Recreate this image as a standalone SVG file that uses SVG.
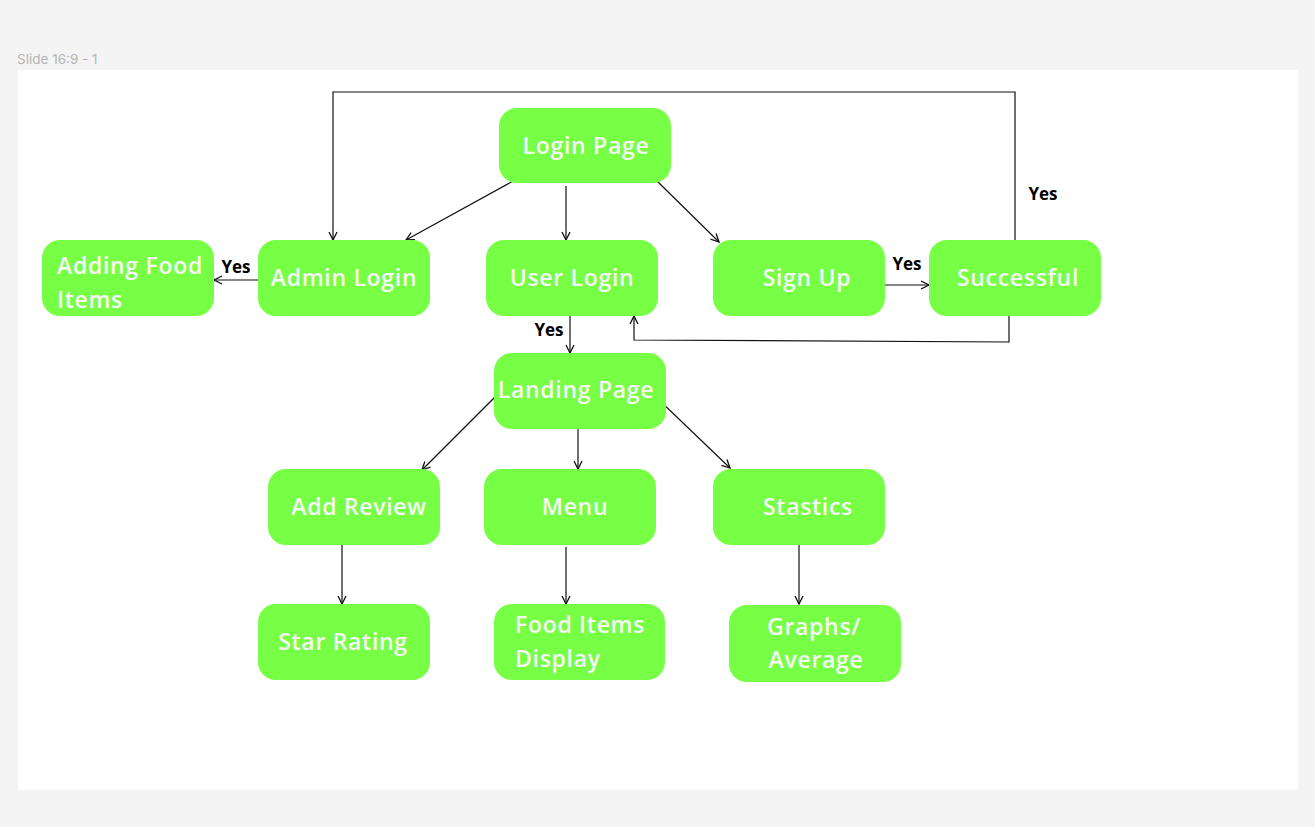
<svg xmlns="http://www.w3.org/2000/svg" width="1315" height="827" viewBox="0 0 1315 827">
<defs>
<marker id="arr" viewBox="0 0 10 10" refX="9" refY="5" markerWidth="10" markerHeight="10" markerUnits="userSpaceOnUse" orient="auto">
<path d="M1,1 L9,5 L1,9" fill="none" stroke="#111" stroke-width="1.3"/>
</marker>
<style>
.n{fill:#77FF45}
.t{font-family:"Open Sans","Liberation Sans",sans-serif;font-weight:600;font-size:23px;letter-spacing:0.7px;fill:#F7F7F7}
.c{fill:none;stroke:#111;stroke-width:1.2}
.y{font-family:"Open Sans","Liberation Sans",sans-serif;font-weight:700;font-size:17px;fill:#000}
</style>
</defs>
<rect width="1315" height="827" fill="#F4F4F4"/>
<text x="17" y="64" font-family="Inter,'Liberation Sans',sans-serif" font-size="13.5" fill="#B5B5B5">Slide 16:9 - 1</text>
<rect x="18" y="70" width="1280" height="720" fill="#FFFFFF"/>

<g id="connectors">
<line class="c" x1="515" y1="180" x2="406" y2="240" marker-end="url(#arr)"/>
<line class="c" x1="566" y1="186" x2="566" y2="240" marker-end="url(#arr)"/>
<line class="c" x1="657" y1="181" x2="719" y2="242" marker-end="url(#arr)"/>
<line class="c" x1="258" y1="280" x2="214" y2="280" marker-end="url(#arr)"/>
<line class="c" x1="570" y1="316" x2="570" y2="353" marker-end="url(#arr)"/>
<line class="c" x1="885" y1="285" x2="929" y2="285" marker-end="url(#arr)"/>
<polyline class="c" points="1015,240 1015,92 333,92 333,240" marker-end="url(#arr)"/>
<polyline class="c" points="1009,316 1009,342 634,340 634,316" marker-end="url(#arr)"/>
<line class="c" x1="497" y1="395" x2="422" y2="470" marker-end="url(#arr)"/>
<line class="c" x1="578" y1="429" x2="578" y2="469" marker-end="url(#arr)"/>
<line class="c" x1="657" y1="398" x2="730" y2="468" marker-end="url(#arr)"/>
<line class="c" x1="342" y1="545" x2="342" y2="604" marker-end="url(#arr)"/>
<line class="c" x1="566" y1="547" x2="566" y2="604" marker-end="url(#arr)"/>
<line class="c" x1="799" y1="545" x2="799" y2="604" marker-end="url(#arr)"/>
<text class="y" x="236" y="273" text-anchor="middle">Yes</text>
<text class="y" x="549" y="336" text-anchor="middle">Yes</text>
<text class="y" x="907" y="270" text-anchor="middle">Yes</text>
<text class="y" x="1043" y="200" text-anchor="middle">Yes</text>
</g>

<g id="login-page"><rect class="n" x="499" y="108" width="172" height="75" rx="18"/><text class="t" x="586" y="154" text-anchor="middle">Login Page</text></g>
<g id="adding-food-items"><rect class="n" x="42" y="240" width="172" height="76" rx="18"/><text class="t" x="57" y="274">Adding Food</text><text class="t" x="57" y="308">Items</text></g>
<g id="admin-login"><rect class="n" x="258" y="240" width="172" height="76" rx="18"/><text class="t" x="344" y="286" text-anchor="middle">Admin Login</text></g>
<g id="user-login"><rect class="n" x="486" y="240" width="172" height="76" rx="18"/><text class="t" x="572" y="286" text-anchor="middle">User Login</text></g>
<g id="sign-up"><rect class="n" x="713" y="240" width="172" height="76" rx="18"/><text class="t" x="807" y="286" text-anchor="middle">Sign Up</text></g>
<g id="successful"><rect class="n" x="929" y="240" width="172" height="76" rx="18"/><text class="t" x="1018" y="286" text-anchor="middle">Successful</text></g>
<g id="landing-page"><rect class="n" x="494" y="353" width="172" height="76" rx="18"/><text class="t" x="576" y="398" text-anchor="middle">Landing Page</text></g>
<g id="add-review"><rect class="n" x="268" y="469" width="172" height="76" rx="18"/><text class="t" x="359" y="515" text-anchor="middle">Add Review</text></g>
<g id="menu"><rect class="n" x="484" y="469" width="172" height="76" rx="18"/><text class="t" x="575" y="515" text-anchor="middle">Menu</text></g>
<g id="stastics"><rect class="n" x="713" y="469" width="172" height="76" rx="18"/><text class="t" x="808" y="515" text-anchor="middle">Stastics</text></g>
<g id="star-rating"><rect class="n" x="258" y="604" width="172" height="76" rx="18"/><text class="t" x="343" y="650" text-anchor="middle">Star Rating</text></g>
<g id="food-items-display"><rect class="n" x="494" y="604" width="171" height="76" rx="18"/><text class="t" x="515" y="633">Food Items</text><text class="t" x="515" y="667">Display</text></g>
<g id="graphs-average"><rect class="n" x="729" y="605" width="172" height="77" rx="18"/><text class="t" x="814" y="635" text-anchor="middle">Graphs/</text><text class="t" x="816" y="668" text-anchor="middle">Average</text></g>
</svg>
